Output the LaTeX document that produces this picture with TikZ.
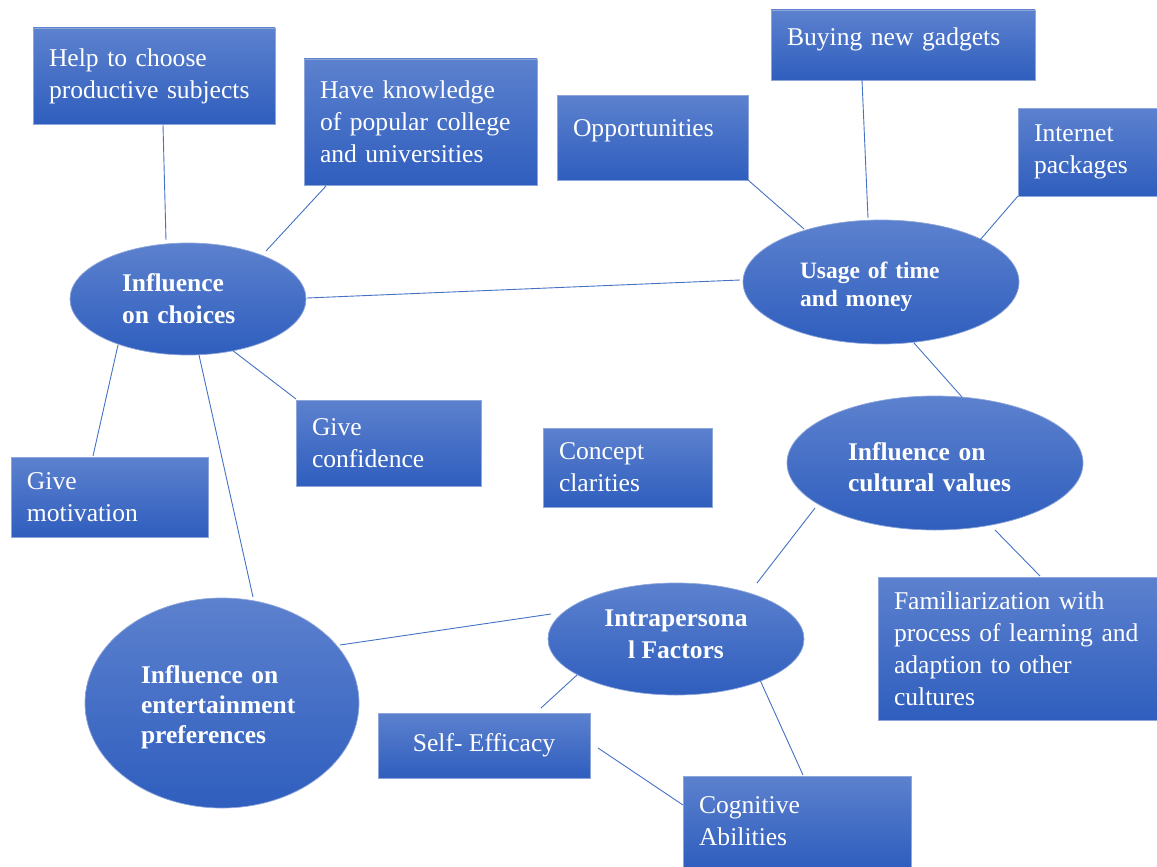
\documentclass[tikz,border=0pt]{standalone}
\usepackage{fontspec}
\setmainfont{Liberation Serif}
\usetikzlibrary{shapes.geometric,calc}
\definecolor{fillTop}{HTML}{5C81CE}
\definecolor{fillBot}{HTML}{2F5EBE}
\definecolor{edgeCol}{HTML}{8EA6DA}
\definecolor{lineCol}{HTML}{4472C4}
\tikzset{
  blue box/.style={rectangle, inner sep=0pt, top color=fillTop, bottom color=fillBot,
    draw=edgeCol, line width=0.7pt, text=white, align=left,
    font=\fontsize{25.6}{32}\selectfont},
  blue oval/.style={ellipse, inner sep=0pt, top color=fillTop, bottom color=fillBot,
    draw=edgeCol, line width=0.7pt, text=white, align=left,
    font=\fontsize{25.5}{31}\selectfont\bfseries},
  link/.style={draw=lineCol, line width=0.9pt}
}
\begin{document}
\begin{tikzpicture}[x=1pt,y=-1pt]
\useasboundingbox (0,0) rectangle (1157,867);
% boxes
\node[blue box, minimum width=242, minimum height=96, text width=210] (help) at (154,76) {Help to choose\\productive subjects};
\node[blue box, minimum width=233, minimum height=126, text width=201] (know) at (420.5,122) {Have knowledge\\of popular college\\and universities};
\node[blue box, minimum width=191, minimum height=85, text width=159, text depth=18.6pt] (opp) at (652.5,137.5) {Opportunities};
\node[blue box, minimum width=264, minimum height=70, text width=232, text depth=17.6pt] (gad) at (903,45) {Buying new gadgets};
\node[blue box, minimum width=139, minimum height=88, text width=107] (inet) at (1087.5,152) {Internet\\packages};
\node[blue box, minimum width=185, minimum height=86, text width=153] (conf) at (388.5,443) {Give\\confidence};
\node[blue box, minimum width=169, minimum height=79, text width=137] (conc) at (627.5,467.5) {Concept\\clarities};
\node[blue box, minimum width=197, minimum height=80, text width=165] (mot) at (109.5,497) {Give\\motivation};
\node[blue box, minimum width=279, minimum height=143, text width=247] (fam) at (1017.5,648.5) {Familiarization with\\process of learning and\\adaption to other\\cultures};
\node[blue box, minimum width=212, minimum height=65, align=center] (self) at (484,745.5) {Self- Efficacy};
\node[blue box, minimum width=228, minimum height=91, text width=196] (cog) at (797,821.5) {Cognitive\\Abilities};
% ovals
\node[blue oval, minimum width=236, minimum height=112, text width=132, font=\fontsize{25.5}{32}\selectfont\bfseries] (choices) at (188,299) {Influence\\on choices};
\node[blue oval, minimum width=276, minimum height=124, text width=162, text height=26.4pt, font=\fontsize{23.5}{28}\selectfont\bfseries] (usage) at (881,282) {Usage of time\\and money};
\node[blue oval, minimum width=296, minimum height=134, text width=174, text height=25.5pt] (cult) at (935,463) {Influence on\\cultural values};
\node[blue oval, minimum width=256, minimum height=112, align=center, text depth=10pt, font=\fontsize{25.5}{32}\selectfont\bfseries] (intra) at (676,639) {Intrapersona\\l Factors};
\node[blue oval, minimum width=274, minimum height=210, text width=162, text height=25.5pt, font=\fontsize{25.5}{30}\selectfont\bfseries] (ent) at (222,703) {Influence on\\entertainment\\preferences};
% connectors
\draw[link] ($(help)+(9,49)$) -- ($(choices)+(-22,-59)$);
\draw[link] ($(know)+(-94.5,64)$) -- ($(choices)+(78,-48)$);
\draw[link] ($(choices)+(119,-1)$) -- ($(usage)+(-141,-2)$);
\draw[link] ($(opp)+(95.5,42.5)$) -- ($(usage)+(-77,-53)$);
\draw[link] ($(gad)+(-41,35)$) -- ($(usage)+(-13,-64)$);
\draw[link] ($(inet)+(-69.5,44)$) -- ($(usage)+(99,-42)$);
\draw[link] ($(usage)+(33,61)$) -- ($(cult)+(27,-66)$);
\draw[link] ($(choices)+(44,51)$) -- ($(conf)+(-92.5,-44)$);
\draw[link] ($(choices)+(-70,46)$) -- ($(mot)+(-16.5,-41)$);
\draw[link] ($(choices)+(11,56)$) -- ($(ent)+(31,-106)$);
\draw[link] ($(cult)+(-120,45)$) -- ($(intra)+(81,-56)$);
\draw[link] ($(cult)+(60,67)$) -- ($(fam)+(22.5,-72.5)$);
\draw[link] ($(intra)+(-125,-25)$) -- ($(ent)+(118,-58)$);
\draw[link] ($(intra)+(-99,36)$) -- ($(self)+(57,-37.5)$);
\draw[link] ($(intra)+(84,41)$) -- ($(cog)+(6,-46.5)$);
\draw[link] ($(self)+(114,2.5)$) -- ($(cog)+(-114,-16.5)$);
\end{tikzpicture}
\end{document}
